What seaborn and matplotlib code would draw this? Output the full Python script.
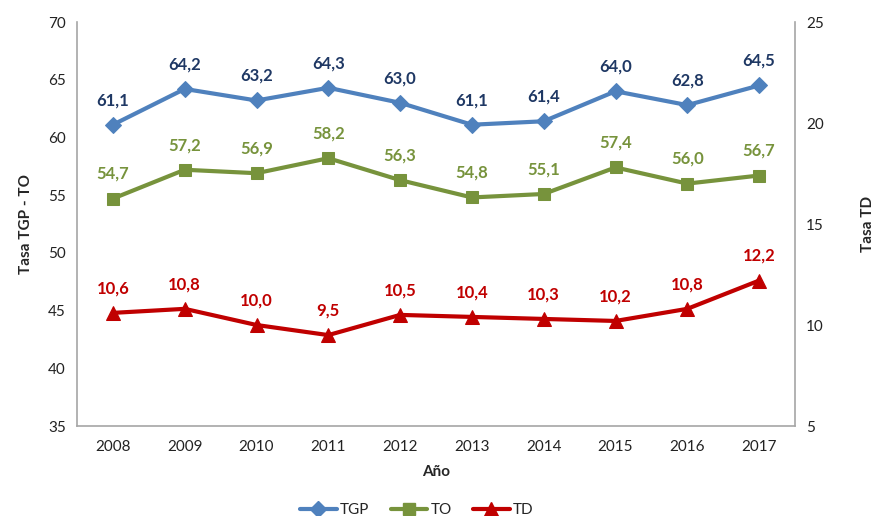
import matplotlib
matplotlib.use("Agg")
import matplotlib.pyplot as plt
import seaborn as sns
import pandas as pd
from matplotlib.lines import Line2D

years = ["2008", "2009", "2010", "2011", "2012", "2013", "2014", "2015", "2016", "2017"]
tgp = [61.1, 64.2, 63.2, 64.3, 63.0, 61.1, 61.4, 64.0, 62.8, 64.5]
to = [54.7, 57.2, 56.9, 58.2, 56.3, 54.8, 55.1, 57.4, 56.0, 56.7]
td = [10.6, 10.8, 10.0, 9.5, 10.5, 10.4, 10.3, 10.2, 10.8, 12.2]

sns.set_theme(style="white")
plt.rcParams['font.family'] = ['Lato', 'DejaVu Sans']

df = pd.DataFrame({"Año": years, "TGP": tgp, "TO": to, "TD": td})
df["x"] = range(len(years))

fig = plt.figure(figsize=(8.79, 5.16), dpi=100)
ax = fig.add_axes([77/879, 1-426/516, (795-77)/879, (426-22)/516])
ax2 = ax.twinx()

c_tgp, c_tgp_t = "#4F81BD", "#1F3864"
c_to, c_to_t = "#77933C", "#77933C"
c_td, c_td_t = "#C00000", "#C00000"

sns.lineplot(data=df, x="x", y="TGP", ax=ax, color=c_tgp, lw=3, marker="D",
             markersize=8, markeredgecolor=c_tgp, legend=False)
sns.lineplot(data=df, x="x", y="TO", ax=ax, color=c_to, lw=3, marker="s",
             markersize=9, markeredgecolor=c_to, legend=False)
sns.lineplot(data=df, x="x", y="TD", ax=ax2, color=c_td, lw=3, marker="^",
             markersize=10, markeredgecolor=c_td, legend=False)

def fmt(v):
    return f"{v:.1f}".replace(".", ",")

for i, v in enumerate(tgp):
    ax.annotate(fmt(v), (i, v), xytext=(0, 12), textcoords="offset points",
                ha="center", va="bottom", fontsize=12, fontweight="bold", color=c_tgp_t)
for i, v in enumerate(to):
    ax.annotate(fmt(v), (i, v), xytext=(0, 12), textcoords="offset points",
                ha="center", va="bottom", fontsize=12, fontweight="bold", color=c_to_t)
for i, v in enumerate(td):
    ax2.annotate(fmt(v), (i, v), xytext=(0, 12), textcoords="offset points",
                 ha="center", va="bottom", fontsize=12, fontweight="bold", color=c_td_t)

ax.set_xlim(-0.5, len(years) - 0.5)
ax.set_ylim(35, 70)
ax2.set_ylim(5, 25)
ax.set_xticks(range(len(years)))
ax.set_xticklabels(years)
ax.set_yticks(range(35, 71, 5))
ax2.set_yticks(range(5, 26, 5))

for a in (ax, ax2):
    a.tick_params(axis="both", length=0, labelsize=11, colors="#222222", pad=8)
    for s in a.spines.values():
        s.set_visible(False)
ax.spines["left"].set_visible(True)
ax.spines["bottom"].set_visible(True)
ax2.spines["right"].set_visible(True)
for a, s in ((ax, "left"), (ax, "bottom"), (ax2, "right")):
    a.spines[s].set_color("#A6A6A6")
    a.spines[s].set_linewidth(1.2)
ax.tick_params(axis="x", pad=10)

ax.set_xlabel("Año", fontsize=11, fontweight="bold", labelpad=8)
ax.set_ylabel("Tasa TGP - TO", fontsize=11, fontweight="bold", labelpad=11)
ax2.set_ylabel("Tasa TD", fontsize=11, fontweight="bold", labelpad=27)
ax.grid(False)
ax2.grid(False)

handles = [
    Line2D([], [], color=c_tgp, lw=3, marker="D", markersize=8, label="TGP"),
    Line2D([], [], color=c_to, lw=3, marker="s", markersize=9, label="TO"),
    Line2D([], [], color=c_td, lw=3, marker="^", markersize=10, label="TD"),
]
fig.legend(handles=handles, loc="center", bbox_to_anchor=(0.474, 1 - 510/516), ncol=3,
           frameon=False, fontsize=11, handlelength=2.4, columnspacing=1.4, handletextpad=0.2)

fig.savefig("out.png", dpi=100)
